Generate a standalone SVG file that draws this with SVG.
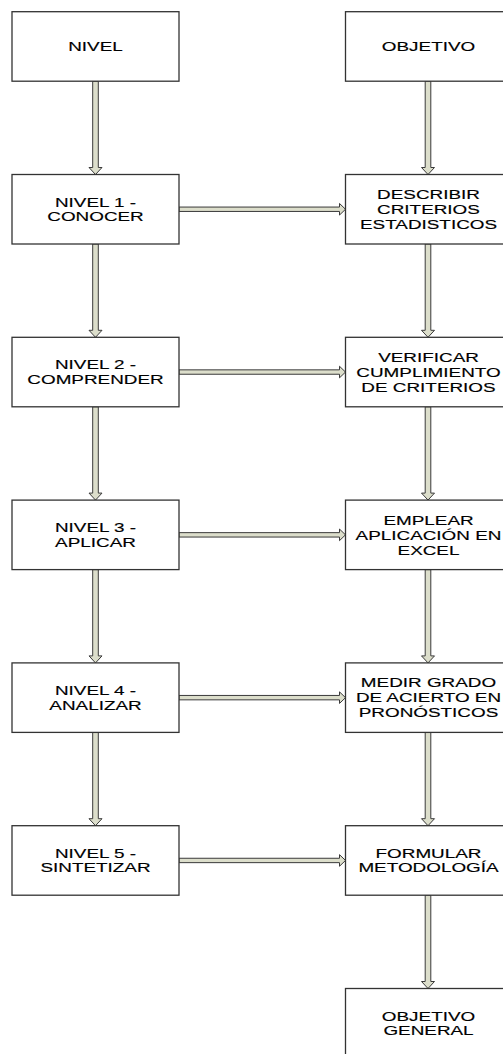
<svg xmlns="http://www.w3.org/2000/svg" xmlns:xlink="http://www.w3.org/1999/xlink" width="503" height="1054" viewBox="0 0 503 1054">
<style>
.box{fill:#ffffff;stroke:#333333;stroke-width:1.3}
.arr{fill:#dcdecb;stroke:#3a3a3a;stroke-width:1}
.t{font-family:"Liberation Sans",Arial,sans-serif;font-size:13.3px;fill:#000000;text-anchor:middle;stroke:#000000;stroke-width:0.15}
</style>
<defs>
<path id="va" d="M-2.8,0 V86.3 H-6.5 L0,93.3 L6.5,86.3 H2.8 V0 Z"/>
<path id="ha" d="M0,-2.2 H160.5 V-5.8 L166.5,0 L160.5,5.8 V2.2 H0 Z"/>
</defs>
<rect width="503" height="1054" fill="#ffffff"/>
<g id="connectors" class="arr">
<use xlink:href="#va" x="95.5" y="81.2"/>
<use xlink:href="#va" x="95.5" y="244"/>
<use xlink:href="#va" x="95.5" y="406.8"/>
<use xlink:href="#va" x="95.5" y="569.6"/>
<use xlink:href="#va" x="95.5" y="732.4"/>
<use xlink:href="#va" x="428" y="81.2"/>
<use xlink:href="#va" x="428" y="244"/>
<use xlink:href="#va" x="428" y="406.8"/>
<use xlink:href="#va" x="428" y="569.6"/>
<use xlink:href="#va" x="428" y="732.4"/>
<use xlink:href="#va" x="428" y="895.2"/>
<use xlink:href="#ha" x="179" y="209.25"/>
<use xlink:href="#ha" x="179" y="372.05"/>
<use xlink:href="#ha" x="179" y="534.85"/>
<use xlink:href="#ha" x="179" y="697.65"/>
<use xlink:href="#ha" x="179" y="860.45"/>
</g>
<g id="n-nivel"><rect class="box" x="12" y="11.7" width="167" height="69.5"/>
<g transform="translate(95.5 0) scale(1.42 1)"><text class="t" x="0" y="51.2">NIVEL</text></g></g>
<g id="n-objetivo"><rect class="box" x="345.5" y="11.7" width="167" height="69.5"/>
<g transform="translate(428.5 0) scale(1.42 1)"><text class="t" x="0" y="51.2">OBJETIVO</text></g></g>
<g id="n-nivel1"><rect class="box" x="12" y="174.5" width="167" height="69.5"/>
<g transform="translate(95.5 0) scale(1.42 1)"><text class="t" x="0" y="206.7">NIVEL 1 -</text><text class="t" x="0" y="221.2">CONOCER</text></g></g>
<g id="n-describir"><rect class="box" x="345.5" y="174.5" width="167" height="69.5"/>
<g transform="translate(428.5 0) scale(1.42 1)"><text class="t" x="0" y="199">DESCRIBIR</text><text class="t" x="0" y="214">CRITERIOS</text><text class="t" x="0" y="229">ESTADISTICOS</text></g></g>
<g id="n-nivel2"><rect class="box" x="12" y="337.3" width="167" height="69.5"/>
<g transform="translate(95.5 0) scale(1.42 1)"><text class="t" x="0" y="369.5">NIVEL 2 -</text><text class="t" x="0" y="384">COMPRENDER</text></g></g>
<g id="n-verificar"><rect class="box" x="345.5" y="337.3" width="167" height="69.5"/>
<g transform="translate(428.5 0) scale(1.42 1)"><text class="t" x="0" y="361.8">VERIFICAR</text><text class="t" x="0" y="376.8">CUMPLIMIENTO</text><text class="t" x="0" y="391.8">DE CRITERIOS</text></g></g>
<g id="n-nivel3"><rect class="box" x="12" y="500.1" width="167" height="69.5"/>
<g transform="translate(95.5 0) scale(1.42 1)"><text class="t" x="0" y="532.3">NIVEL 3 -</text><text class="t" x="0" y="546.8">APLICAR</text></g></g>
<g id="n-emplear"><rect class="box" x="345.5" y="500.1" width="167" height="69.5"/>
<g transform="translate(428.5 0) scale(1.42 1)"><text class="t" x="0" y="524.6">EMPLEAR</text><text class="t" x="0" y="539.6">APLICACIÓN EN</text><text class="t" x="0" y="554.6">EXCEL</text></g></g>
<g id="n-nivel4"><rect class="box" x="12" y="662.9" width="167" height="69.5"/>
<g transform="translate(95.5 0) scale(1.42 1)"><text class="t" x="0" y="695.1">NIVEL 4 -</text><text class="t" x="0" y="709.6">ANALIZAR</text></g></g>
<g id="n-medir"><rect class="box" x="345.5" y="662.9" width="167" height="69.5"/>
<g transform="translate(428.5 0) scale(1.42 1)"><text class="t" x="0" y="687.4">MEDIR GRADO</text><text class="t" x="0" y="702.4">DE ACIERTO EN</text><text class="t" x="0" y="717.4">PRONÓSTICOS</text></g></g>
<g id="n-nivel5"><rect class="box" x="12" y="825.7" width="167" height="69.5"/>
<g transform="translate(95.5 0) scale(1.42 1)"><text class="t" x="0" y="857.9">NIVEL 5 -</text><text class="t" x="0" y="872.4">SINTETIZAR</text></g></g>
<g id="n-formular"><rect class="box" x="345.5" y="825.7" width="167" height="69.5"/>
<g transform="translate(428.5 0) scale(1.42 1)"><text class="t" x="0" y="857.9">FORMULAR</text><text class="t" x="0" y="872.4">METODOLOGÍA</text></g></g>
<g id="n-general"><rect class="box" x="345.5" y="988.5" width="167" height="69.5"/>
<g transform="translate(428.5 0) scale(1.42 1)"><text class="t" x="0" y="1020.7">OBJETIVO</text><text class="t" x="0" y="1035.2">GENERAL</text></g></g>
</svg>
